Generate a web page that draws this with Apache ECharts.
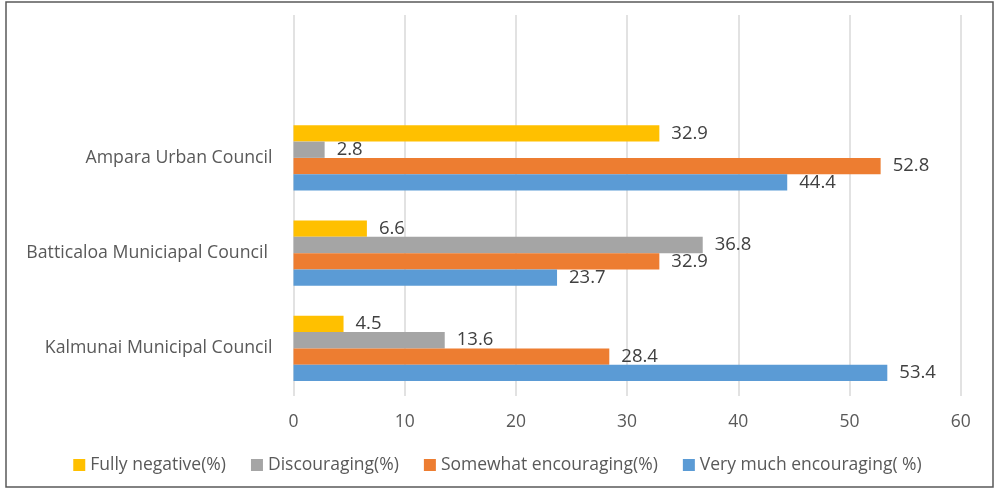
<!DOCTYPE html>
<html>
<head>
<meta charset="utf-8">
<script src="https://cdn.jsdelivr.net/npm/echarts@6/dist/echarts.min.js"></script>
<style>
html,body{margin:0;padding:0;background:#fff;}
#c{width:995px;height:488px;}
</style>
</head>
<body>
<div id="c"></div>
<script>
var categories = ['Kalmunai Municipal Council', 'Batticaloa Municiapal Council ', 'Ampara Urban Council', ''];
var seriesNames = ['Fully negative(%)', 'Discouraging(%)', 'Somewhat encouraging(%)', 'Very much encouraging( %)'];
var fullyNegative = [4.5, 6.6, 32.9];
var discouraging = [13.6, 36.8, 2.8];
var somewhatEncouraging = [28.4, 32.9, 52.8];
var veryMuchEncouraging = [53.4, 23.7, 44.4];
var xTicks = [0, 10, 20, 30, 40, 50, 60];

var colors = ['#FFC000', '#A5A5A5', '#ED7D31', '#5B9BD5'];
var values = [fullyNegative, discouraging, somewhatEncouraging, veryMuchEncouraging];
var font = '"Open Sans", sans-serif';

var chart = echarts.init(document.getElementById('c'), null, {renderer: 'canvas'});
var series = seriesNames.map(function (n, i) {
  return {
    name: n,
    type: 'bar',
    data: values[i],
    itemStyle: {color: colors[i]},
    barGap: '0%',
    barCategoryGap: '31.6%',
    label: {
      show: true,
      position: 'right',
      distance: 12,
      color: '#404040',
      fontSize: 18.5,
      fontFamily: font
    },
    emphasis: {disabled: true}
  };
});

chart.setOption({
  animation: false,
  color: colors,
  grid: {left: 293.5, right: 34.3, top: 15, bottom: 92, containLabel: false},
  legend: {
    data: seriesNames,
    bottom: 9,
    left: 'center',
    itemWidth: 12,
    itemHeight: 12,
    itemGap: 25,
    icon: 'rect',
    textStyle: {color: '#595959', fontSize: 17.5, fontFamily: font}
  },
  xAxis: {
    type: 'value',
    min: xTicks[0],
    max: xTicks[xTicks.length - 1],
    interval: 10,
    axisLine: {show: false},
    axisTick: {show: false},
    axisLabel: {color: '#595959', fontSize: 17.5, fontFamily: font, margin: 17},
    splitLine: {show: true, lineStyle: {color: '#D9D9D9', width: 1.5}}
  },
  yAxis: {
    type: 'category',
    data: categories,
    axisLine: {show: false},
    axisTick: {show: false},
    axisLabel: {color: '#595959', fontSize: 17.7, fontFamily: font, margin: 21}
  },
  graphic: [{
    type: 'rect',
    shape: {x: 6, y: 2, width: 987, height: 485},
    style: {fill: 'none', stroke: '#595959', lineWidth: 1.5},
    silent: true
  }],
  series: series
});
</script>
</body>
</html>
